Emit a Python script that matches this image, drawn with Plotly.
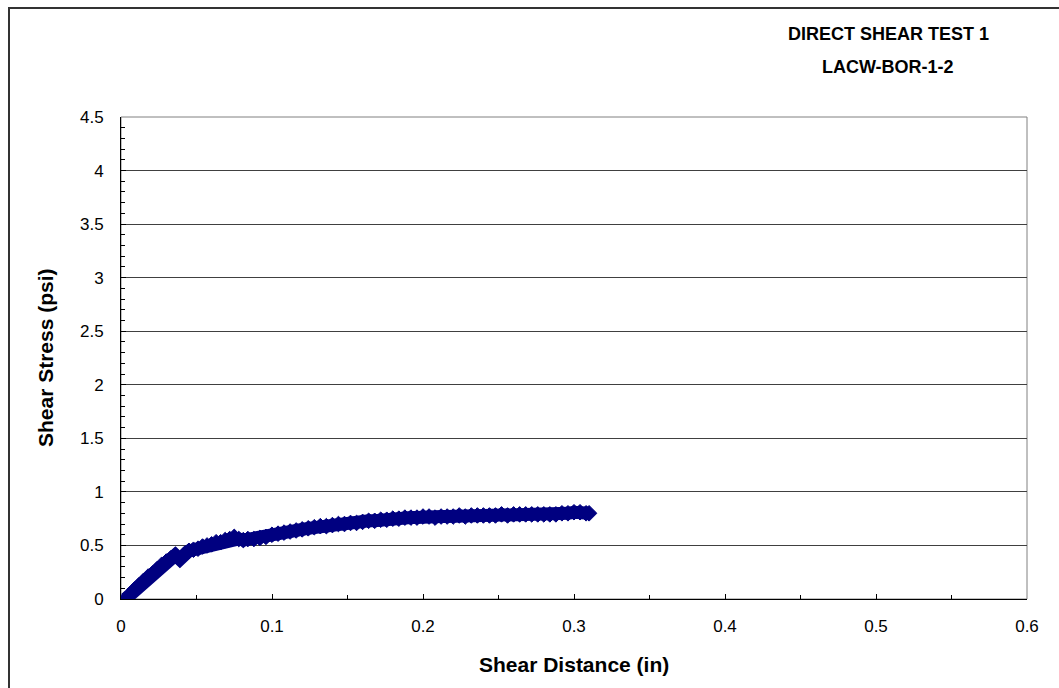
import plotly.graph_objects as go

# Shear distance (in) and shear stress (psi)
shear_distance = [
    0.003, 0.006, 0.009, 0.012, 0.015, 0.018, 0.021, 0.024, 0.027, 0.030,
    0.033, 0.036, 0.039, 0.042, 0.045, 0.048, 0.051, 0.054, 0.057, 0.060,
    0.063, 0.066, 0.069, 0.072, 0.075, 0.078, 0.081, 0.084, 0.088, 0.092,
    0.096, 0.100, 0.104, 0.108, 0.112, 0.116, 0.120, 0.124, 0.128, 0.132,
    0.136, 0.140, 0.144, 0.148, 0.152, 0.156, 0.160, 0.164, 0.168, 0.172,
    0.176, 0.180, 0.184, 0.188, 0.192, 0.196, 0.200, 0.204, 0.208, 0.212,
    0.216, 0.220, 0.224, 0.228, 0.232, 0.236, 0.240, 0.244, 0.248, 0.252,
    0.256, 0.260, 0.264, 0.268, 0.272, 0.276, 0.280, 0.284, 0.288, 0.292,
    0.296, 0.300, 0.304, 0.308, 0.310,
]
shear_stress = [
    0.00, 0.04, 0.09, 0.13, 0.17, 0.21, 0.24, 0.28, 0.32, 0.35,
    0.38, 0.41, 0.37, 0.42, 0.45, 0.46, 0.47, 0.49, 0.50, 0.51,
    0.53, 0.53, 0.55, 0.56, 0.58, 0.56, 0.55, 0.56, 0.56, 0.57,
    0.58, 0.60, 0.61, 0.62, 0.63, 0.64, 0.65, 0.66, 0.67, 0.68,
    0.68, 0.69, 0.70, 0.70, 0.71, 0.71, 0.72, 0.73, 0.73, 0.74,
    0.74, 0.75, 0.75, 0.76, 0.76, 0.76, 0.77, 0.77, 0.76, 0.77,
    0.77, 0.77, 0.78, 0.77, 0.78, 0.78, 0.78, 0.78, 0.78, 0.79,
    0.78, 0.79, 0.79, 0.79, 0.79, 0.79, 0.79, 0.79, 0.79, 0.80,
    0.80, 0.81, 0.81, 0.80, 0.80,
]

title_lines = ["DIRECT SHEAR TEST 1", "LACW-BOR-1-2"]
x_title = "Shear Distance (in)"
y_title = "Shear Stress (psi)"

W, H = 1059, 688
L, R, T, B = 121, 32, 117, 89
pw, ph = W - L - R, H - T - B

def px_to_paper_x(px):
    return (px - L) / pw

def px_to_paper_y(py):
    return (H - B - py) / ph

FONT = "Liberation Sans, Arial, sans-serif"
NAVY = "#000080"

fig = go.Figure()
fig.add_trace(go.Scatter(
    x=shear_distance, y=shear_stress, mode="lines+markers",
    line=dict(color=NAVY, width=13),
    marker=dict(symbol="diamond", size=12, color=NAVY,
                line=dict(color=NAVY, width=1)),
    showlegend=False, hoverinfo="x+y",
))

fig.update_layout(
    width=W, height=H,
    margin=dict(l=L, r=R, t=T, b=B),
    paper_bgcolor="white", plot_bgcolor="white",
    font=dict(family=FONT, size=17, color="black"),
    xaxis=dict(
        range=[0, 0.6], dtick=0.1, tickformat="~g",
        showgrid=False, zeroline=False,
        showline=True, linecolor="black", linewidth=1,
        ticks="inside", ticklen=5, tickcolor="black",
        minor=dict(dtick=0.05, ticks="inside", ticklen=4, tickcolor="black", showgrid=False),
        tickfont=dict(size=17),
        ticklabelstandoff=12,
    ),
    yaxis=dict(
        range=[0, 4.5], dtick=0.5, tickformat="~g",
        showgrid=True, gridcolor="#404040", gridwidth=1,
        zeroline=False,
        showline=True, linecolor="black", linewidth=1,
        ticks="inside", ticklen=5, tickcolor="black",
        minor=dict(dtick=0.1, ticks="inside", ticklen=4, tickcolor="black", showgrid=False),
        tickfont=dict(size=17),
        ticklabelstandoff=13,
    ),
    shapes=[
        dict(type="rect", xref="paper", yref="paper", x0=0, x1=1, y0=0, y1=1,
             line=dict(color="#808080", width=1), layer="below"),
        dict(type="rect", xref="paper", yref="paper",
             x0=px_to_paper_x(9), x1=px_to_paper_x(W + 10),
             y0=px_to_paper_y(H + 10), y1=px_to_paper_y(8),
             line=dict(color="#333333", width=2)),
    ],
    annotations=[
        dict(xref="paper", yref="paper", x=px_to_paper_x(888), y=px_to_paper_y(34),
             text="<b>" + title_lines[0] + "</b>",
             showarrow=False, font=dict(size=18, color="black"),
             xanchor="center", yanchor="middle"),
        dict(xref="paper", yref="paper", x=px_to_paper_x(888), y=px_to_paper_y(67),
             text="<b>" + title_lines[1] + "</b>",
             showarrow=False, font=dict(size=18, color="black"),
             xanchor="center", yanchor="middle"),
        dict(xref="paper", yref="paper", x=0.5, y=px_to_paper_y(664),
             text="<b>" + x_title + "</b>",
             showarrow=False, font=dict(size=21, color="black"),
             xanchor="center", yanchor="middle"),
        dict(xref="paper", yref="paper", x=px_to_paper_x(45), y=0.5,
             text="<b>" + y_title + "</b>", textangle=-90,
             showarrow=False, font=dict(size=21, color="black"),
             xanchor="center", yanchor="middle"),
    ],
)

fig.write_html("out.html")
